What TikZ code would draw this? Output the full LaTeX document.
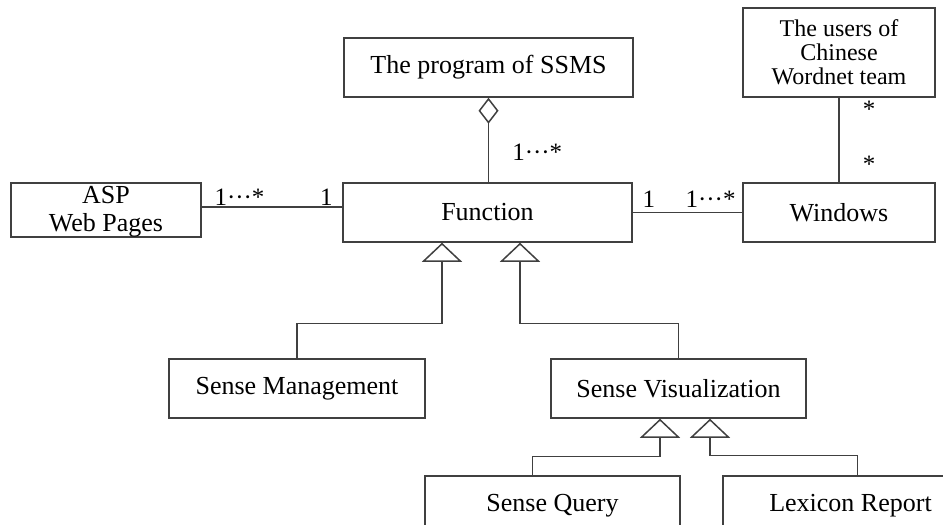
\documentclass[tikz,border=0pt]{standalone}
\usepackage{fontspec}
\setmainfont{Liberation Serif}
\usetikzlibrary{arrows.meta}
\tikzset{
  umlbox/.style={draw=black!75, line width=1.5pt, inner sep=0pt, align=center,
    fill=white, font=\fontsize{26}{28}\selectfont},
  link/.style={draw=black!75, line width=1.5pt},
  gen/.style={link, -{Triangle[open, length=19pt, width=40pt]}},
  agg/.style={link, {Diamond[open, length=26pt, width=20pt]}-},
  mult/.style={font=\fontsize{25}{26}\selectfont, inner sep=1pt}
}

\begin{document}
\begin{tikzpicture}[x=1pt, y=-1pt]
\useasboundingbox (0,0) rectangle (943,525);
\clip (0,0) rectangle (943,525);
% classes
\node [umlbox, minimum width=289pt, minimum height=59pt] (prog) at (488.5,67.5) {The program of SSMS};
\node [umlbox, minimum width=192pt, minimum height=89pt, font=\fontsize{24}{24}\selectfont] (users) at (839,52.5) {The users of\\Chinese\\Wordnet team};
\node [umlbox, minimum width=190pt, minimum height=54pt, text depth=3pt] (asp) at (106,210) {ASP\\Web Pages};
\node [umlbox, minimum width=289pt, minimum height=59pt] (func) at (487.5,212.5) {Function};
\node [umlbox, minimum width=192pt, minimum height=59pt] (win) at (839,212.5) {Windows};
\node [umlbox, minimum width=256pt, minimum height=59pt] (mgmt) at (297,388.5) {Sense Management};
\node [umlbox, minimum width=255pt, minimum height=59pt] (vis) at (678.5,388.5) {Sense Visualization};
\node [umlbox, minimum width=255pt, minimum height=59pt] (query) at (552.5,505.5) {Sense Query};
\node [umlbox, minimum width=255pt, minimum height=59pt] (report) at (850.5,505.5) {Lexicon Report};
% associations
\draw [agg] (prog.south) -- (prog.south |- func.north)
  node [mult, pos=0.65, right, xshift=22pt] {1···*};
\draw [link] (users) -- (win)
  node [mult, pos=0.14, right, xshift=22pt] {*}
  node [mult, pos=0.79, right, xshift=22pt] {*};
\draw [link] ([yshift=3pt]asp.east) -- ([yshift=3pt]asp.east -| func.west)
  node [mult, pos=0, above right, xshift=11pt] {1···*}
  node [mult, pos=1, above left, xshift=-8pt] {1};
\draw [link] (func) -- (win)
  node [mult, pos=0, above right, xshift=8pt, yshift=3pt] {1}
  node [mult, pos=1, above left, xshift=-5pt, yshift=3pt] {1···*};
% generalizations
\draw [gen] (mgmt.north) -- ++(0,-35) -| ([xshift=-45.5pt]func.south);
\draw [gen] (vis.north) -- ++(0,-35) -| ([xshift=32.5pt]func.south);
\draw [gen] ([xshift=-20pt]query.north) -- ++(0,-19) -| ([xshift=-18.5pt]vis.south);
\draw [gen] ([xshift=7pt]report.north) -- ++(0,-20) -| ([xshift=31.5pt]vis.south);
\end{tikzpicture}
\end{document}
